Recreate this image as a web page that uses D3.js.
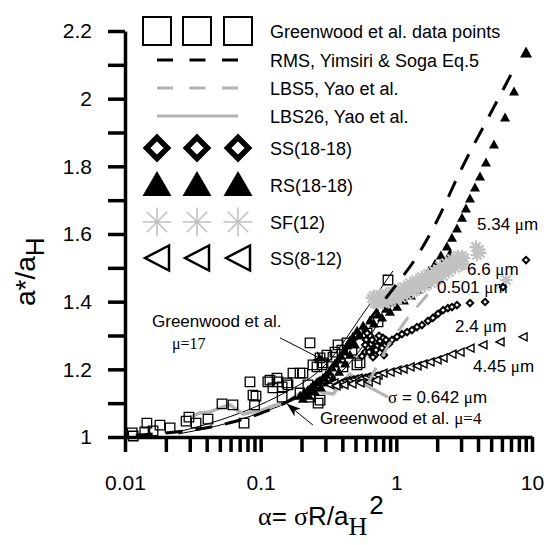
<!DOCTYPE html>
<html>
<head>
<meta charset="utf-8">
<script src="https://cdn.jsdelivr.net/npm/d3@7"></script>
<style>
body { margin: 0; background: #fff; }
text { font-family: Arial, "Liberation Sans", sans-serif; fill: #000; }
.serif { font-family: "Times New Roman", "Liberation Serif", serif; }
</style>
</head>
<body>
<div id="chart"></div>
<script>
// axis ticks
const xMajor = [0.01, 0.1, 1, 10];
const xMajorLabels = ['0.01', '0.1', '1', '10'];
const yMajor = [1, 1.2, 1.4, 1.6, 1.8, 2, 2.2];
const yMajorLabels = ['1', '1.2', '1.4', '1.6', '1.8', '2', '2.2'];

// Greenwood et al. data points (squares)
const greenwoodAlpha = [0.0113, 0.0115, 0.0140, 0.0145, 0.0161, 0.0181, 0.0215, 0.0282, 0.0296, 0.0334,
  0.0409, 0.0519, 0.0625, 0.0754, 0.0834, 0.0878, 0.0924, 0.0901, 0.113, 0.117, 0.123, 0.132, 0.134,
  0.144, 0.144, 0.156, 0.159, 0.173, 0.195, 0.195, 0.205, 0.223, 0.231, 0.231, 0.243, 0.260, 0.265,
  0.274, 0.274, 0.283, 0.288, 0.308, 0.341, 0.353, 0.372, 0.397, 0.404, 0.433, 0.471, 0.513, 0.540,
  0.608, 0.640, 0.733, 0.868];
const greenwoodRatio = [1.012, 1.003, 1.015, 1.041, 1.018, 1.035, 1.027, 1.047, 1.059, 1.041,
  1.053, 1.098, 1.095, 1.041, 1.163, 1.124, 1.121, 1.095, 1.163, 1.168, 1.145, 1.174, 1.163,
  1.148, 1.118, 1.160, 1.154, 1.189, 1.189, 1.130, 1.189, 1.154, 1.118, 1.278, 1.213, 1.207, 1.100,
  1.234, 1.109, 1.213, 1.219, 1.242, 1.236, 1.251, 1.272, 1.257, 1.207, 1.278, 1.257, 1.213, 1.219,
  1.307, 1.281, 1.340, 1.464];

// RMS, Yimsiri & Soga Eq.5
const rmsAlpha = [0.012, 0.02, 0.05, 0.1, 0.2, 0.3, 0.5, 0.7, 1, 1.4, 2, 3, 5, 7.3];
const rmsRatio = [1.005, 1.012, 1.035, 1.07, 1.13, 1.19, 1.29, 1.37, 1.45, 1.53, 1.64, 1.79, 1.96, 2.085];

// LBS5, Yao et al. (sigma = 0.501 um)
const lbs5Alpha = [0.62, 0.87, 1.2, 1.86];
const lbs5Ratio = [1.16, 1.27, 1.35, 1.44];

// LBS26, Yao et al. (sigma = 0.642 um)
const lbs26Alpha = [0.0301, 0.0357, 0.0423, 0.0501, 0.0594, 0.0669, 0.0741, 0.0878, 0.104, 0.123,
  0.156, 0.185, 0.205, 0.243, 0.283, 0.341, 0.404, 0.455, 0.513, 0.608];
const lbs26Ratio = [1.059, 1.071, 1.074, 1.086, 1.095, 1.080, 1.068, 1.074, 1.080, 1.092,
  1.103, 1.124, 1.133, 1.145, 1.133, 1.127, 1.163, 1.186, 1.168, 1.151];

// Greenwood et al. theory curves
const gw17Alpha = [0.0246, 0.0501, 0.0989, 0.164, 0.231, 0.324, 0.419, 0.540, 0.696, 0.868, 0.945];
const gw17Ratio = [1.015, 1.050, 1.095, 1.139, 1.174, 1.228, 1.287, 1.352, 1.414, 1.470, 1.491];
const gw4Alpha = [0.0246, 0.0501, 0.0989, 0.156, 0.231, 0.324, 0.419, 0.540, 0.662, 0.784];
const gw4Ratio = [1.009, 1.035, 1.071, 1.100, 1.133, 1.168, 1.204, 1.257, 1.307, 1.358];

// RS(18-18), 5.34 um (filled triangles)
const rsAlpha = [0.195, 0.209, 0.223, 0.235, 0.247, 0.260, 0.274, 0.288, 0.303, 0.319, 0.336, 0.353,
  0.372, 0.391, 0.411, 0.433, 0.455, 0.479, 0.514, 0.569, 0.640, 0.733, 0.839, 0.945, 1.06, 1.22,
  1.37, 1.54, 1.74, 1.93, 2.13, 2.36, 2.57, 2.80, 3.05, 3.26, 3.49, 3.80, 4.14, 4.58, 5.24, 6.33, 7.37,
  0.205, 0.227, 0.251, 0.278, 0.308, 0.341, 0.378, 0.419, 0.455, 0.496, 0.540, 0.599, 0.683, 0.784,
  0.898, 1.012, 1.138, 1.282, 1.445, 1.626, 1.832, 2.028, 2.21, 2.488, 9.04];
const rsRatio = [1.121, 1.130, 1.136, 1.145, 1.151, 1.160, 1.166, 1.174, 1.183, 1.192, 1.204, 1.216,
  1.228, 1.239, 1.254, 1.269, 1.284, 1.296, 1.313, 1.328, 1.343, 1.361, 1.378, 1.396, 1.414, 1.432,
  1.449, 1.470, 1.491, 1.511, 1.535, 1.562, 1.588, 1.615, 1.647, 1.674, 1.704, 1.736, 1.769, 1.810, 1.863, 1.943, 2.020,
  1.112, 1.121, 1.133, 1.145, 1.160, 1.174, 1.192, 1.216, 1.242, 1.272, 1.299, 1.316, 1.334, 1.352,
  1.369, 1.384, 1.402, 1.417, 1.435, 1.452, 1.473, 1.494, 1.517, 1.541, 2.135];

// SF(12), 6.6 um (asterisks)
const sfAlpha = [0.662, 0.696, 0.733, 0.771, 0.811, 0.853, 0.898, 0.945, 0.994, 1.046, 1.100, 1.158,
  1.218, 1.281, 1.350, 1.420, 1.494, 1.572, 1.654, 1.741, 1.832, 1.928, 2.028, 2.134, 2.245, 2.362,
  2.488, 2.617, 2.753, 2.897, 3.048, 3.10, 4.07, 6.44,
  0.683, 0.720, 0.758, 0.797, 0.839, 0.880, 0.929, 0.978, 1.029, 1.082, 1.138, 1.199, 1.261, 1.327,
  1.396, 1.469, 1.545, 1.626, 1.711, 1.800, 1.893, 1.995, 2.099, 2.208, 2.323, 2.444, 2.57, 2.707,
  2.848, 2.996, 3.152, 3.865, 4.14, 3.93];
const sfRatio = [1.411, 1.396, 1.414, 1.402, 1.417, 1.405, 1.423, 1.411, 1.429, 1.417, 1.435, 1.426,
  1.440, 1.449, 1.440, 1.458, 1.449, 1.464, 1.473, 1.464, 1.482, 1.473, 1.494, 1.485, 1.505, 1.497,
  1.517, 1.508, 1.529, 1.517, 1.535, 1.511, 1.553, 1.464,
  1.417, 1.393, 1.420, 1.396, 1.423, 1.399, 1.429, 1.405, 1.437, 1.411, 1.443, 1.420, 1.455, 1.429,
  1.464, 1.437, 1.473, 1.446, 1.482, 1.455, 1.491, 1.464, 1.505, 1.476, 1.514, 1.488, 1.526, 1.500,
  1.535, 1.508, 1.529, 1.562, 1.544, 1.538];

// SS(18-18), 2.4 um (diamonds)
const ss1818Alpha = [0.589, 0.599, 0.620, 0.640, 0.651, 0.683, 0.696, 0.720, 0.758, 0.797, 0.825,
  0.558, 0.589, 0.630, 0.662, 0.708, 0.745, 0.784, 0.839, 0.880, 0.609, 0.672, 0.811,
  0.929, 1.012, 1.100, 1.199, 1.304, 1.420, 1.545, 1.711, 1.86, 2.028, 2.21, 2.40, 2.57, 2.80, 3.49, 4.51, 6.11, 9.04];
const ss1818Ratio = [1.251, 1.287, 1.263, 1.299, 1.275, 1.257, 1.242, 1.269, 1.284, 1.293, 1.272,
  1.239, 1.272, 1.251, 1.287, 1.257, 1.299, 1.263, 1.287, 1.275, 1.307, 1.236, 1.242,
  1.287, 1.296, 1.304, 1.310, 1.316, 1.325, 1.331, 1.343, 1.352, 1.364, 1.375, 1.381, 1.384, 1.390, 1.396, 1.399, 1.443, 1.523];

// SS(8-12), 4.45 um (open left triangles)
const ss812Alpha = [0.324, 0.347, 0.372, 0.397, 0.425, 0.455, 0.488, 0.522, 0.558, 0.599, 0.640, 0.683,
  0.733, 0.797, 0.898, 1.012, 1.12, 1.261, 1.420, 1.572, 1.771, 1.995, 2.21, 2.57, 2.947, 3.49, 4.35, 5.81, 8.59,
  0.359, 0.411, 0.471, 0.540, 0.620, 0.708];
const ss812Ratio = [1.154, 1.160, 1.157, 1.163, 1.166, 1.168, 1.171, 1.174, 1.174, 1.177, 1.180, 1.180,
  1.183, 1.189, 1.192, 1.198, 1.201, 1.207, 1.210, 1.216, 1.222, 1.228, 1.234, 1.245, 1.251, 1.263, 1.272, 1.281, 1.296,
  1.151, 1.154, 1.157, 1.160, 1.163, 1.168];

const W = 551, H = 545;
const svg = d3.select('#chart').append('svg').attr('width', W).attr('height', H);

const x = d3.scaleLog().domain([0.01, 10]).range([125, 532]);
const y = d3.scaleLinear().domain([1, 2.2]).range([437, 31]);

const black = '#000';
const gray = '#b3b3b3';
const lightGray = '#c2c2c2';

// symbol paths
const sq = s => `M${-s / 2},${-s / 2}h${s}v${s}h${-s}Z`;
const dia = r => `M0,${-r}L${r},0L0,${r}L${-r},0Z`;
const triUp = (w, h) => `M0,${-h * 0.6}L${w / 2},${h * 0.4}L${-w / 2},${h * 0.4}Z`;
const triLeft = (w, h) => `M${-w / 2},0L${w / 2},${-h / 2}L${w / 2},${h / 2}Z`;
const aster = r => {
  const d = r * Math.SQRT1_2;
  return `M${-r},0L${r},0M0,${-r}L0,${r}M${-d},${-d}L${d},${d}M${-d},${d}L${d},${-d}`;
};

const zip = (a, b) => a.map((v, i) => [v, b[i]]);
const line = d3.line().x(d => x(d[0])).y(d => y(d[1]));
const smooth = d3.line().x(d => x(d[0])).y(d => y(d[1])).curve(d3.curveMonotoneX);

// axes
const xTickVals = [];
[0.01, 0.1, 1].forEach(p => { for (let k = 1; k <= 9; k++) xTickVals.push(+(p * k).toPrecision(3)); });
xTickVals.push(10);
const yTickVals = d3.range(0, 13).map(i => +(1 + i * 0.1).toFixed(1));

const xAxis = svg.append('g').attr('transform', `translate(0,${y(1)})`)
  .call(d3.axisBottom(x).tickValues(xTickVals).tickSize(15).tickSizeOuter(0).tickPadding(23)
    .tickFormat(d => { const i = xMajor.indexOf(d); return i >= 0 ? xMajorLabels[i] : ''; }));
const yAxis = svg.append('g').attr('transform', `translate(${x(0.01)},0)`)
  .call(d3.axisLeft(y).tickValues(yTickVals).tickSize(17).tickSizeOuter(0).tickPadding(16)
    .tickFormat(d => { const i = yMajor.findIndex(v => Math.abs(v - d) < 1e-6); return i >= 0 ? yMajorLabels[i] : ''; }));
[xAxis, yAxis].forEach(a => {
  a.select('.domain').attr('stroke', black).attr('stroke-width', 3.5);
  a.selectAll('.tick line').attr('stroke', black).attr('stroke-width', 3.5);
  a.selectAll('.tick text').attr('font-size', 21).attr('font-family', 'Arial, "Liberation Sans", sans-serif').attr('fill', black);
});

const plot = svg.append('g');

// Greenwood theory curves
[zip(gw17Alpha, gw17Ratio), zip(gw4Alpha, gw4Ratio)].forEach(d => {
  plot.append('path').attr('d', smooth(d)).attr('fill', 'none').attr('stroke', black).attr('stroke-width', 1);
});

// LBS26 gray solid
plot.append('path').attr('d', line(zip(lbs26Alpha, lbs26Ratio)))
  .attr('fill', 'none').attr('stroke', gray).attr('stroke-width', 3.5).attr('stroke-linejoin', 'round');

// Greenwood data squares
plot.selectAll('.gw').data(zip(greenwoodAlpha, greenwoodRatio)).enter().append('path')
  .attr('d', sq(9.5)).attr('transform', d => `translate(${x(d[0])},${y(d[1])})`)
  .attr('fill', 'none').attr('stroke', black).attr('stroke-width', 1.3);

// RS triangles
plot.selectAll('.rs').data(zip(rsAlpha, rsRatio)).enter().append('path')
  .attr('d', (d, i) => i === rsAlpha.length - 1 ? triUp(12, 11) : triUp(10, 9))
  .attr('transform', d => `translate(${x(d[0])},${y(d[1])})`).attr('fill', black);

// SF asterisks
plot.selectAll('.sf').data(zip(sfAlpha, sfRatio)).enter().append('path')
  .attr('d', aster(6.5)).attr('transform', d => `translate(${x(d[0])},${y(d[1])})`)
  .attr('fill', 'none').attr('stroke', lightGray).attr('stroke-width', 2.2);

// SS(18-18) diamonds
plot.selectAll('.ss').data(zip(ss1818Alpha, ss1818Ratio)).enter().append('path')
  .attr('d', dia(3.2)).attr('transform', d => `translate(${x(d[0])},${y(d[1])})`)
  .attr('fill', '#fff').attr('stroke', black).attr('stroke-width', 2);

// SS(8-12) left triangles
plot.selectAll('.sl').data(zip(ss812Alpha, ss812Ratio)).enter().append('path')
  .attr('d', triLeft(8, 8)).attr('transform', d => `translate(${x(d[0])},${y(d[1])})`)
  .attr('fill', '#fff').attr('stroke', black).attr('stroke-width', 1.4);

// RMS black dashed
plot.append('path').attr('d', smooth(zip(rmsAlpha, rmsRatio)))
  .attr('fill', 'none').attr('stroke', black).attr('stroke-width', 3).attr('stroke-dasharray', '17,13');

// LBS5 gray dashed
plot.append('path').attr('d', line(zip(lbs5Alpha, lbs5Ratio)))
  .attr('fill', 'none').attr('stroke', gray).attr('stroke-width', 3).attr('stroke-dasharray', '17,13');

// annotation arrows (data coordinates)
const arrows = [
  { from: [0.139, 1.293], to: [0.308, 1.222] },
  { from: [0.243, 1.035], to: [0.156, 1.098] }
];
arrows.forEach(a => {
  const x1 = x(a.from[0]), y1 = y(a.from[1]), x2 = x(a.to[0]), y2 = y(a.to[1]);
  plot.append('line').attr('x1', x1).attr('y1', y1).attr('x2', x2).attr('y2', y2)
    .attr('stroke', black).attr('stroke-width', 1);
  const ang = Math.atan2(y2 - y1, x2 - x1) * 180 / Math.PI;
  plot.append('path').attr('d', 'M0,0L-14,-5L-10,0L-14,5Z')
    .attr('transform', `translate(${x2},${y2}) rotate(${ang})`).attr('fill', black);
});
// leader for sigma = 0.642
plot.append('line').attr('x1', x(0.608)).attr('y1', y(1.151)).attr('x2', x(0.868)).attr('y2', y(1.118))
  .attr('stroke', gray).attr('stroke-width', 3);

// plot labels
const labels = [
  { t: ['5.34 ', 'μ', 'm'], x: 477, y: 230 },
  { t: ['6.6 ', 'μ', 'm'], x: 467, y: 275 },
  { t: ['0.501 ', 'μ', 'm'], x: 437, y: 293 },
  { t: ['2.4 ', 'μ', 'm'], x: 455, y: 332 },
  { t: ['4.45 ', 'μ', 'm'], x: 473, y: 372 }
];
labels.forEach(l => {
  const tx = svg.append('text').attr('x', l.x).attr('y', l.y).attr('font-size', 17);
  tx.append('tspan').text(l.t[0]);
  tx.append('tspan').attr('class', 'serif').text(l.t[1]);
  tx.append('tspan').text(l.t[2]);
});
const sig = svg.append('text').attr('x', 388).attr('y', 403).attr('font-size', 17);
sig.append('tspan').attr('class', 'serif').text('σ');
sig.append('tspan').text(' = 0.642 ');
sig.append('tspan').attr('class', 'serif').text('μ');
sig.append('tspan').text('m');

svg.append('text').attr('x', 152).attr('y', 327).attr('font-size', 17).text('Greenwood et al.');
svg.append('text').attr('x', 172).attr('y', 349).attr('font-size', 16).attr('class', 'serif').text('μ=17');
const g4 = svg.append('text').attr('x', 320).attr('y', 424).attr('font-size', 17);
g4.append('tspan').text('Greenwood et al. ');
g4.append('tspan').attr('class', 'serif').text('μ=4');

// legend
const legendRows = [
  { name: 'Greenwood et al. data points', y: 31, kind: 'sq' },
  { name: 'RMS, Yimsiri & Soga Eq.5', y: 60, kind: 'dashBlack' },
  { name: 'LBS5, Yao et al.', y: 88, kind: 'dashGray' },
  { name: 'LBS26, Yao et al.', y: 116, kind: 'solidGray' },
  { name: 'SS(18-18)', y: 148, kind: 'dia' },
  { name: 'RS(18-18)', y: 185, kind: 'tri' },
  { name: 'SF(12)', y: 222, kind: 'ast' },
  { name: 'SS(8-12)', y: 258, kind: 'left' }
];
const legX = [157, 197, 238];
const leg = svg.append('g');
legendRows.forEach(r => {
  if (r.kind === 'dashBlack' || r.kind === 'dashGray' || r.kind === 'solidGray') {
    leg.append('line').attr('x1', legX[0]).attr('x2', legX[2]).attr('y1', r.y).attr('y2', r.y)
      .attr('stroke', r.kind === 'dashBlack' ? black : gray).attr('stroke-width', 3)
      .attr('stroke-dasharray', r.kind === 'solidGray' ? null : '16,16.5');
  } else {
    legX.forEach(cx => {
      const p = leg.append('path').attr('transform', `translate(${cx},${r.y})`);
      if (r.kind === 'sq') p.attr('d', sq(28)).attr('fill', 'none').attr('stroke', black).attr('stroke-width', 2);
      if (r.kind === 'dia') p.attr('d', dia(10.5)).attr('fill', '#fff').attr('stroke', black).attr('stroke-width', 5.5);
      if (r.kind === 'tri') p.attr('d', triUp(29, 25)).attr('fill', black).attr('transform', `translate(${cx},${r.y + 1})`);
      if (r.kind === 'ast') p.attr('d', aster(14.5)).attr('fill', 'none').attr('stroke', lightGray).attr('stroke-width', 1.6);
      if (r.kind === 'left') p.attr('d', triLeft(24, 25)).attr('fill', 'none').attr('stroke', black).attr('stroke-width', 2.5);
    });
  }
  leg.append('text').attr('x', 270).attr('y', r.y + 6.5).attr('font-size', 18).text(r.name);
});

// axis titles
const yt = svg.append('text').attr('transform', 'translate(35,306) rotate(-90)').attr('font-size', 28);
yt.append('tspan').text('a*/a');
yt.append('tspan').attr('font-size', 26).attr('dy', 9).text('H');

const xt = svg.append('text').attr('x', 258).attr('y', 525).attr('font-size', 26);
xt.append('tspan').attr('class', 'serif').text('α');
xt.append('tspan').text('= ');
xt.append('tspan').attr('class', 'serif').text('σ');
xt.append('tspan').text('R/a');
xt.append('tspan').attr('class', 'serif').attr('dy', 10).text('H');
xt.append('tspan').attr('dy', -21).attr('dx', 2).text('2');
</script>
</body>
</html>
